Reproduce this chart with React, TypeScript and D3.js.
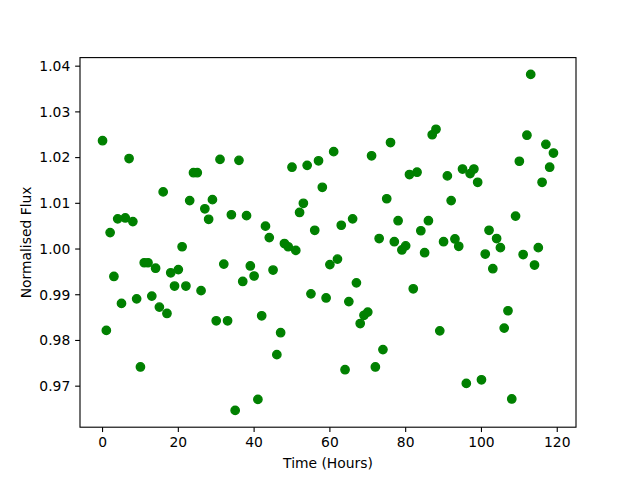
import React from "react";
import * as d3 from "d3";

const hours: number[] = Array.from({ length: 120 }, (_, i) => i);
const flux: number[] = [
  1.0237, 0.9822, 1.0036, 0.994, 1.0066, 0.9881, 1.0068, 1.0198, 1.006, 0.9891,
  0.9742, 0.997, 0.997, 0.9897, 0.9958, 0.9873, 1.0125, 0.9859, 0.9948, 0.9919,
  0.9955, 1.0005, 0.9919, 1.0106, 1.0167, 1.0167, 0.9909, 1.0088, 1.0065, 1.0108,
  0.9843, 1.0196, 0.9967, 0.9843, 1.0075, 0.9647, 1.0194, 0.9929, 1.0073, 0.9963,
  0.9941, 0.9671, 0.9854, 1.005, 1.0025, 0.9954, 0.9769, 0.9817, 1.0012, 1.0005,
  1.0179, 0.9997, 1.008, 1.01, 1.0183, 0.9902, 1.0041, 1.0193, 1.0135, 0.9893,
  0.9966, 1.0213, 0.9978, 1.0052, 0.9736, 0.9885, 1.0066, 0.9926, 0.9837, 0.9855,
  0.9862, 1.0204, 0.9742, 1.0023, 0.978, 1.011, 1.0233, 1.0016, 1.0062, 0.9998,
  1.0007, 1.0163, 0.9913, 1.0168, 1.004, 0.9992, 1.0062, 1.025, 1.0262, 0.9821,
  1.0016, 1.016, 1.0106, 1.0022, 1.0006, 1.0175, 0.9706, 1.0165, 1.0175, 1.0146,
  0.9714, 0.9989, 1.0041, 0.9957, 1.0023, 1.0003, 0.9827, 0.9865, 0.9672, 1.0072,
  1.0192, 0.9988, 1.0249, 1.0382, 0.9965, 1.0003, 1.0146, 1.0229, 1.0179, 1.021,
];
const xTicks: number[] = [0, 20, 40, 60, 80, 100, 120];
const yTicks: number[] = [0.97, 0.98, 0.99, 1.0, 1.01, 1.02, 1.03, 1.04];
const xLabel = "Time (Hours)";
const yLabel = "Normalised Flux";

export default function App() {
  const W = 640, H = 480;
  const L = 80, R = 576, T = 57.6, B = 427.2;
  const xMin = d3.min(hours)!, xMax = d3.max(hours)!;
  const yMin = d3.min(flux)!, yMax = d3.max(flux)!;
  const xm = (xMax - xMin) * 0.05, ym = (yMax - yMin) * 0.05;
  const x = d3.scaleLinear().domain([xMin - xm, xMax + xm]).range([L, R]);
  const y = d3.scaleLinear().domain([yMin - ym, yMax + ym]).range([B, T]);
  const tick = 4.86;
  const font = "DejaVu Sans, sans-serif";
  return (
    <svg width={W} height={H} style={{ position: "absolute", left: 0, top: 0, background: "#fff" }} fontFamily={font}>
      <rect x={0} y={0} width={W} height={H} fill="#fff" />
      {hours.map((h, i) => (
        <circle key={i} cx={x(h)} cy={y(flux[i])} r={4.17} fill="#008000" stroke="#008000" strokeWidth={1.39} />
      ))}
      <rect x={L} y={T} width={R - L} height={B - T} fill="none" stroke="#000" strokeWidth={1.11} />
      {xTicks.map((t) => (
        <g key={t}>
          <line x1={x(t)} x2={x(t)} y1={B} y2={B + tick} stroke="#000" strokeWidth={1.11} />
          <text x={x(t)} y={B + tick + 4.86 + 10.5} textAnchor="middle" fontSize={13.89} fill="#000">{t}</text>
        </g>
      ))}
      {yTicks.map((t) => (
        <g key={t}>
          <line x1={L - tick} x2={L} y1={y(t)} y2={y(t)} stroke="#000" strokeWidth={1.11} />
          <text x={L - tick - 4.86} y={y(t)} dy="0.35em" textAnchor="end" fontSize={13.89} fill="#000">{d3.format(".2f")(t)}</text>
        </g>
      ))}
      <text x={(L + R) / 2} y={468} textAnchor="middle" fontSize={13.89} fill="#000">{xLabel}</text>
      <text transform={`translate(31,${(T + B) / 2}) rotate(-90)`} textAnchor="middle" fontSize={13.89} fill="#000">{yLabel}</text>
    </svg>
  );
}
